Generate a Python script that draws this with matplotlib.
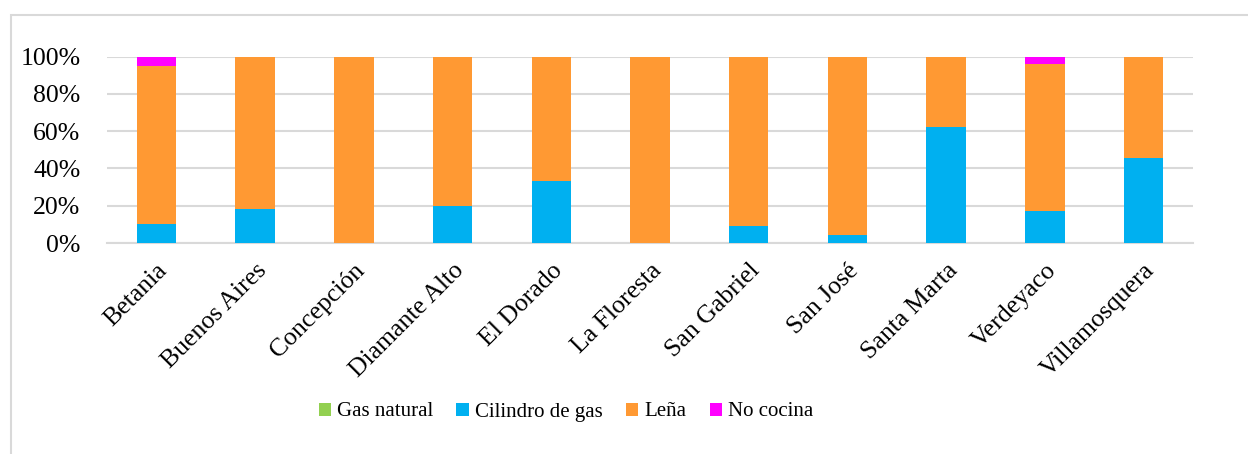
import numpy as np
import matplotlib.pyplot as plt
from matplotlib.patches import Rectangle
from matplotlib.ticker import PercentFormatter

# data (percent of households)
veredas = ['Betania', 'Buenos Aires', 'Concepción', 'Diamante Alto', 'El Dorado',
           'La Floresta', 'San Gabriel', 'San José', 'Santa Marta', 'Verdeyaco',
           'Villamosquera']
gas_natural = [0, 0, 0, 0, 0, 0, 0, 0, 0, 0, 0]
cilindro = [10, 18, 0, 20, 33.3, 0, 9, 4.5, 62, 17.4, 45.8]
lena = [85, 82, 100, 80, 66.7, 100, 91, 95.5, 38, 78.7, 54.2]
no_cocina = [5, 0, 0, 0, 0, 0, 0, 0, 0, 3.9, 0]

series = [('Gas natural', gas_natural, '#92D050'),
          ('Cilindro de gas', cilindro, '#00B0F0'),
          ('Leña', lena, '#FF9933'),
          ('No cocina', no_cocina, '#FF00FF')]

plt.rcParams['font.family'] = ['Liberation Serif', 'DejaVu Serif']

fig = plt.figure(figsize=(12.48, 4.54), dpi=100)
ax = fig.add_axes([107 / 1248, 211 / 454, 1086 / 1248, 186.3 / 454])

# light chart border (cropped at right and bottom)
fig.patches.append(Rectangle((11 / 1248, -0.1), 1.2, (454 - 15) / 454 + 0.1,
                             transform=fig.transFigure, fill=False,
                             edgecolor='#D9D9D9', linewidth=1.5))

x = np.arange(len(veredas))
bottom = np.zeros(len(veredas))
for name, vals, color in series:
    vals = np.array(vals, dtype=float)
    ax.bar(x, vals, 0.4, bottom=bottom, color=color, label=name, zorder=3)
    bottom += vals

ax.set_xlim(-0.5, len(veredas) - 0.5)
ax.set_ylim(0, 100)
ax.set_yticks(np.arange(0, 101, 20))
ax.yaxis.set_major_formatter(PercentFormatter(decimals=0))
ax.grid(axis='y', color='#D9D9D9', linewidth=1.5, zorder=0)
for side in ['top', 'right', 'left']:
    ax.spines[side].set_visible(False)
ax.spines['bottom'].set_color('#D9D9D9')
ax.spines['bottom'].set_linewidth(1.5)

ax.tick_params(axis='y', length=0, pad=19, labelsize=18.5)
ax.tick_params(axis='x', length=0, pad=12)
ax.set_xticks(x)
ax.set_xticklabels(veredas, rotation=45, ha='right', rotation_mode='anchor',
                   fontsize=18.5)

fig.legend(loc='center', bbox_to_anchor=(566 / 1248, 42 / 454), ncol=4,
           frameon=False, fontsize=15, handlelength=0.6, handleheight=0.6,
           handletextpad=0.3, columnspacing=1.1)

fig.savefig('out.png', dpi=100)
